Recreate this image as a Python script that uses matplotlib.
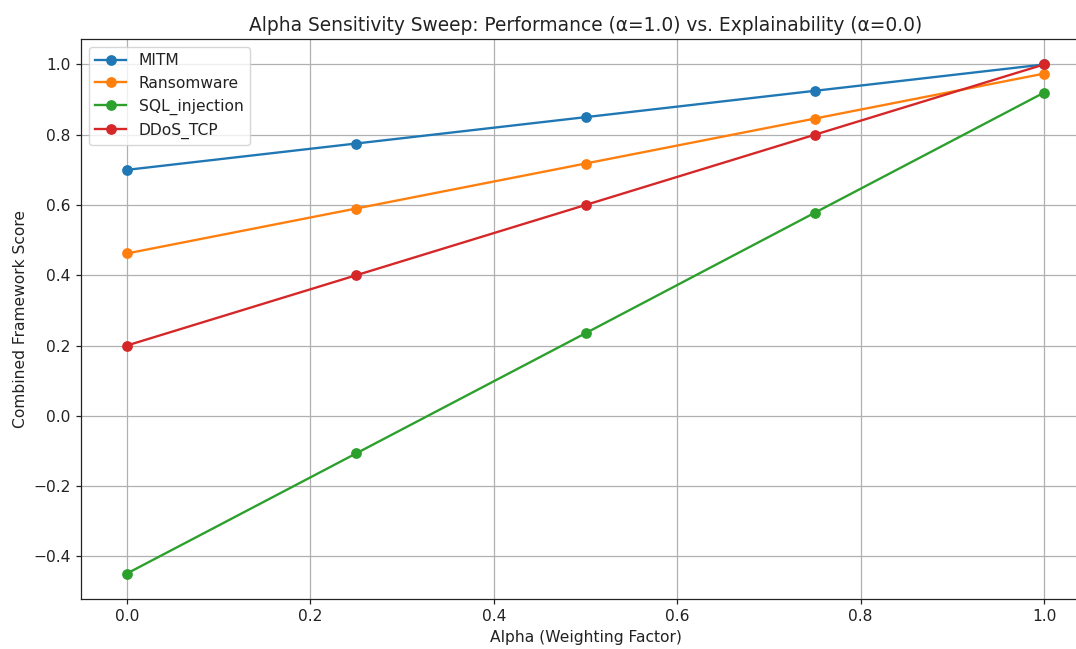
import matplotlib
matplotlib.use("Agg")
import matplotlib.pyplot as plt

alphas = [0.0, 0.25, 0.5, 0.75, 1.0]
mitm = [0.70, 0.775, 0.85, 0.925, 1.0]
ransomware = [0.462, 0.590, 0.718, 0.846, 0.974]
sql_injection = [-0.449, -0.107, 0.235, 0.578, 0.920]
ddos_tcp = [0.20, 0.40, 0.60, 0.80, 1.0]

series = [("MITM", mitm), ("Ransomware", ransomware),
          ("SQL_injection", sql_injection), ("DDoS_TCP", ddos_tcp)]

s = 1.12
plt.rcParams.update({
    "font.size": 10 * s,
    "lines.linewidth": 1.5 * s,
    "lines.markersize": 6 * s,
    "axes.linewidth": 0.8 * s,
    "grid.linewidth": 0.8 * s,
    "xtick.major.width": 0.8 * s,
    "ytick.major.width": 0.8 * s,
    "xtick.major.size": 3.5 * s,
    "ytick.major.size": 3.5 * s,
    "text.color": "#222222",
    "xtick.color": "#222222",
    "ytick.color": "#222222",
    "axes.labelcolor": "#222222",
    "axes.edgecolor": "#222222",
})

fig = plt.figure(figsize=(10.76, 6.49), dpi=100)
ax = fig.add_axes([81/1076, 50/649, 1009/1076, 560/649])
for name, vals in series:
    ax.plot(alphas, vals, marker="o", label=name)
ax.set_xlim(-0.05, 1.05)
ax.set_title("Alpha Sensitivity Sweep: Performance (α=1.0) vs. Explainability (α=0.0)", fontsize=12 * s)
ax.set_xlabel("Alpha (Weighting Factor)")
ax.set_ylabel("Combined Framework Score")
ax.grid(True)
ax.legend(loc="upper left")
fig.savefig("out.png", dpi=100)
